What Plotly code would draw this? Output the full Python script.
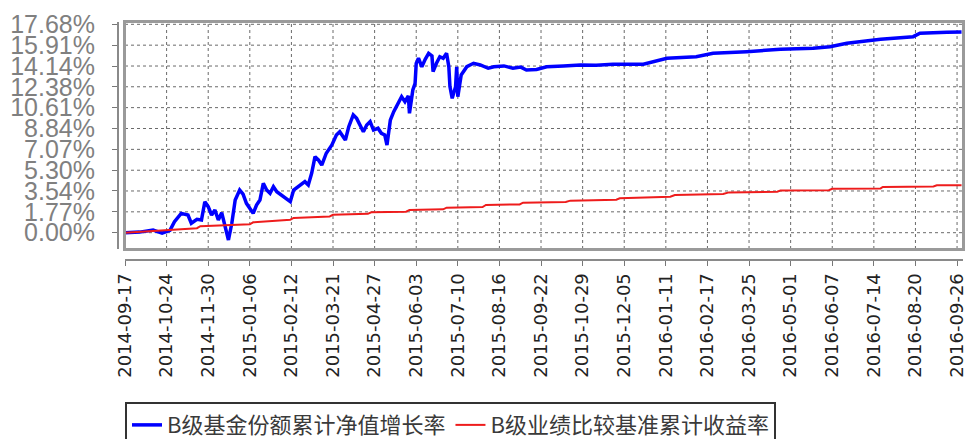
import plotly.graph_objects as go

# ---- data ----
blue_dates = [
    "2014-09-17", "2014-09-30", "2014-10-12", "2014-10-20", "2014-10-27", "2014-10-31",
    "2014-11-06", "2014-11-12", "2014-11-15", "2014-11-20", "2014-11-24", "2014-11-27",
    "2014-11-30", "2014-12-03", "2014-12-06", "2014-12-09", "2014-12-12", "2014-12-15",
    "2014-12-18", "2014-12-21", "2014-12-24", "2014-12-28", "2014-12-31", "2015-01-03",
    "2015-01-06", "2015-01-09", "2015-01-12", "2015-01-15", "2015-01-18", "2015-01-21",
    "2015-01-24", "2015-01-27", "2015-01-30", "2015-02-03", "2015-02-08", "2015-02-11",
    "2015-02-14", "2015-02-20", "2015-02-24", "2015-02-27", "2015-03-02", "2015-03-05",
    "2015-03-08", "2015-03-11", "2015-03-15", "2015-03-20", "2015-03-24", "2015-03-27",
    "2015-04-01", "2015-04-04", "2015-04-08", "2015-04-11", "2015-04-14", "2015-04-17",
    "2015-04-20", "2015-04-23", "2015-04-26", "2015-04-30", "2015-05-03", "2015-05-06",
    "2015-05-08", "2015-05-11", "2015-05-14", "2015-05-18", "2015-05-21", "2015-05-24",
    "2015-05-27", "2015-05-28", "2015-05-31", "2015-06-02", "2015-06-03", "2015-06-05",
    "2015-06-08", "2015-06-11", "2015-06-14", "2015-06-17", "2015-06-18", "2015-06-21",
    "2015-06-24", "2015-06-27", "2015-06-30", "2015-07-02", "2015-07-03", "2015-07-05",
    "2015-07-08", "2015-07-09", "2015-07-10", "2015-07-13", "2015-07-18", "2015-07-24",
    "2015-07-30", "2015-08-06", "2015-08-11", "2015-08-20", "2015-08-28", "2015-09-04",
    "2015-09-09", "2015-09-18", "2015-09-27", "2015-10-12", "2015-10-27", "2015-11-10",
    "2015-11-25", "2015-12-22", "2016-01-12", "2016-02-07", "2016-02-22", "2016-03-23",
    "2016-04-22", "2016-05-21", "2016-06-05", "2016-06-20", "2016-07-20", "2016-08-18",
    "2016-08-24", "2016-09-17", "2016-09-30",
]
blue_values = [
    0.00, 0.05, 0.22, -0.03, 0.20, 0.93,
    1.64, 1.50, 0.80, 1.13, 1.08, 2.63,
    2.21, 1.50, 1.93, 1.08, 1.70, 0.65,
    -0.62, 0.80, 2.77, 3.62, 3.28, 2.49,
    2.07, 1.64, 2.35, 2.77, 4.19, 3.62,
    3.34, 3.90, 3.48, 3.20, 2.92, 2.63,
    3.62, 4.05, 4.33, 4.05, 5.04, 6.45,
    6.17, 5.74, 6.74, 7.44, 8.29, 8.57,
    7.86, 8.99, 9.99, 9.70, 9.14, 8.57,
    9.14, 9.42, 8.71, 8.86, 8.43, 8.29,
    7.44, 9.56, 10.27, 10.98, 11.54, 11.11,
    11.60, 10.13, 12.11, 12.67, 14.37, 14.80,
    14.08, 14.71, 15.22, 14.99, 13.66, 14.37,
    14.93, 14.80, 15.22, 14.08, 12.39, 11.40,
    12.39, 14.08, 11.54, 13.38, 14.08, 14.37,
    14.23, 13.95, 14.08, 14.15, 13.95, 14.05,
    13.80, 13.85, 14.08, 14.15, 14.23, 14.20,
    14.29, 14.29, 14.80, 14.93, 15.22, 15.36,
    15.56, 15.64, 15.78, 16.07, 16.41, 16.63,
    16.92, 17.00, 17.02,
]

red_dates = [
    "2014-09-17", "2014-10-31", "2014-11-20", "2014-11-23", "2015-01-06", "2015-01-09",
    "2015-02-11", "2015-02-14", "2015-03-18", "2015-03-21", "2015-04-21", "2015-04-24",
    "2015-05-25", "2015-05-28", "2015-06-27", "2015-06-30", "2015-08-01", "2015-08-04",
    "2015-09-03", "2015-09-06", "2015-10-14", "2015-10-18", "2015-11-28", "2015-12-01",
    "2016-01-15", "2016-01-19", "2016-03-02", "2016-03-07", "2016-04-19", "2016-04-22",
    "2016-06-04", "2016-06-07", "2016-07-20", "2016-07-22", "2016-09-05", "2016-09-08",
    "2016-09-30",
]
red_values = [
    0.00, 0.30, 0.38, 0.55, 0.71, 0.88,
    1.10, 1.25, 1.38, 1.52, 1.60, 1.73,
    1.78, 1.93, 1.98, 2.12, 2.18, 2.35,
    2.40, 2.55, 2.60, 2.72, 2.80, 2.92,
    3.05, 3.20, 3.28, 3.42, 3.47, 3.57,
    3.60, 3.73, 3.76, 3.88, 3.92, 4.02,
    4.03,
]

x_tick_labels = [
    "2014-09-17", "2014-10-24", "2014-11-30", "2015-01-06", "2015-02-12", "2015-03-21",
    "2015-04-27", "2015-06-03", "2015-07-10", "2015-08-16", "2015-09-22", "2015-10-29",
    "2015-12-05", "2016-01-11", "2016-02-17", "2016-03-25", "2016-05-01", "2016-06-07",
    "2016-07-14", "2016-08-20", "2016-09-26",
]
y_tick_values = [0.00, 1.77, 3.54, 5.30, 7.07, 8.84, 10.61, 12.38, 14.14, 15.91, 17.68]
y_tick_labels = ["0.00%", "1.77%", "3.54%", "5.30%", "7.07%", "8.84%",
                 "10.61%", "12.38%", "14.14%", "15.91%", "17.68%"]

series_names = ["B级基金份额累计净值增长率", "B级业绩比较基准累计收益率"]

# ---- figure ----
W, H = 969, 439
X_RANGE = ["2014-09-17", "2016-10-01 07:00"]
Y_RANGE = [-1.383, 17.875]
X_DOMAIN = [7 / 845, 1]
Y_DOMAIN = [(260 - 249) / 238, 1]

fig = go.Figure()
fig.add_trace(go.Scatter(x=blue_dates, y=blue_values, mode="lines",
                         name=series_names[0],
                         line=dict(color="#0000ff", width=3.5)))
fig.add_trace(go.Scatter(x=red_dates, y=red_values, mode="lines",
                         name=series_names[1],
                         line=dict(color="#ee1c1c", width=2)))
# empty trace so the detached (offset) axes get drawn
fig.add_trace(go.Scatter(x=[], y=[], xaxis="x2", yaxis="y2", showlegend=False,
                         hoverinfo="skip"))

frame_color = "#9a9a9a"
axis_color = "#8a8a8a"
grid_color = "#6a6a6a"

# dashed grid drawn as shapes placed through the axes' own scales
grid_shapes = []
for d in x_tick_labels:
    grid_shapes.append(dict(type="line", xref="x", yref="y domain",
                            x0=d, x1=d, y0=0, y1=1, layer="below",
                            line=dict(color=grid_color, width=1, dash="dot")))
for v in y_tick_values:
    grid_shapes.append(dict(type="line", xref="x domain", yref="y",
                            x0=0, x1=1, y0=v, y1=v, layer="below",
                            line=dict(color=grid_color, width=1, dash="dot")))
frame_shape = dict(type="rect", xref="paper", yref="paper",
                   x0=X_DOMAIN[0], x1=X_DOMAIN[1], y0=Y_DOMAIN[0], y1=Y_DOMAIN[1],
                   line=dict(color=frame_color, width=2),
                   fillcolor="rgba(0,0,0,0)", layer="above")

fig.update_layout(
    width=W, height=H,
    paper_bgcolor="white", plot_bgcolor="white",
    margin=dict(l=118, r=6, t=22, b=179, autoexpand=False),
    showlegend=True,
    legend=dict(
        orientation="h", x=7 / 845, xanchor="left", y=-0.597, yanchor="top",
        bordercolor="#333333", borderwidth=2, bgcolor="white",
        font=dict(family="Noto Sans CJK SC", size=22, color="#3a3a3a"),
        itemwidth=30,
    ),
    # main axes: frame only (grid comes from shapes)
    xaxis=dict(
        type="date", domain=X_DOMAIN, anchor="y", range=X_RANGE,
        tickmode="array", tickvals=x_tick_labels, showticklabels=False, ticks="",
        showline=True, mirror="all", linecolor=frame_color, linewidth=2,
        showgrid=False, zeroline=False,
    ),
    yaxis=dict(
        domain=Y_DOMAIN, anchor="x", range=Y_RANGE,
        tickmode="array", tickvals=y_tick_values, showticklabels=False, ticks="",
        showline=True, mirror="all", linecolor=frame_color, linewidth=2,
        showgrid=False, zeroline=False,
    ),
    # detached axes with ticks and labels
    xaxis2=dict(
        type="date", overlaying="x", anchor="free", position=0, range=X_RANGE,
        tickmode="array", tickvals=x_tick_labels, ticktext=x_tick_labels,
        tickangle=-90, ticks="outside", ticklen=5, tickcolor="#777777",
        tickfont=dict(family="DejaVu Sans", size=18, color="#222222"),
        showline=True, linecolor=axis_color, linewidth=2,
        showgrid=False, zeroline=False,
    ),
    yaxis2=dict(
        overlaying="y", anchor="free", position=0, range=Y_RANGE,
        tickmode="array", tickvals=y_tick_values, ticktext=y_tick_labels,
        ticks="outside", ticklen=5, tickcolor="#777777", ticklabelstandoff=12,
        tickfont=dict(family="Liberation Sans", size=25, color="#808080"),
        showline=True, linecolor=axis_color, linewidth=2,
        showgrid=False, zeroline=False,
    ),
    shapes=grid_shapes + [frame_shape],
)

# remove the browser's default 8px body margin so the figure sits at (0, 0)
fig.write_html("out.html", config={"displayModeBar": False},
               post_script="document.body.style.margin='0';")
